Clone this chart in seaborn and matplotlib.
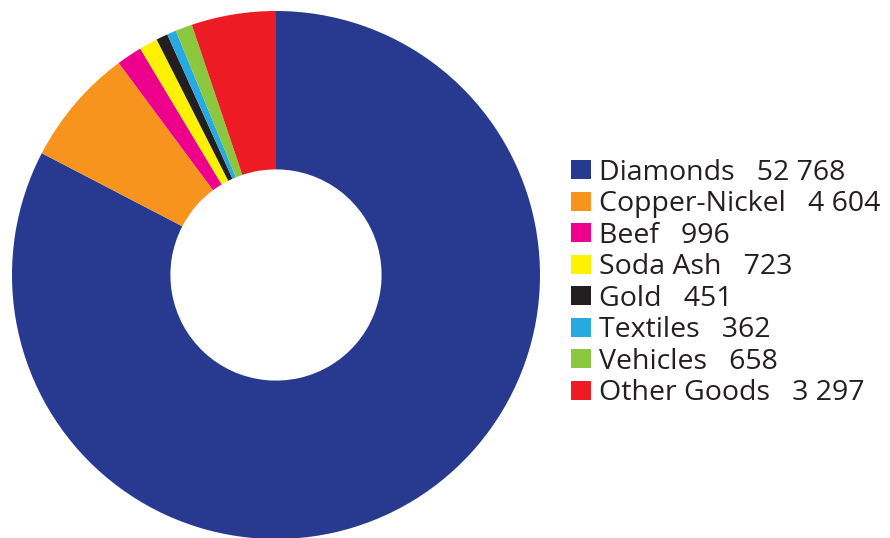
import matplotlib
matplotlib.use("Agg")
import matplotlib.pyplot as plt
import seaborn as sns
from matplotlib.patches import Patch

categories = ["Diamonds", "Copper-Nickel", "Beef", "Soda Ash", "Gold", "Textiles", "Vehicles", "Other Goods"]
values = [52768, 4604, 996, 723, 451, 362, 658, 3297]
value_labels = ["52 768", "4 604", "996", "723", "451", "362", "658", "3 297"]
colors = ["#283990", "#F7941D", "#EC008C", "#FFF200", "#231F20", "#27AAE1", "#8DC63F", "#ED1C24"]

sns.set_theme(style="white")
plt.rcParams['font.family'] = ['Open Sans', 'DejaVu Sans']

fig = plt.figure(figsize=(8.9, 5.38), dpi=100)
ax = fig.add_axes([12/890, -1/538, 528/890, 528/538])
ax.pie(values, colors=colors, startangle=90, counterclock=False,
       radius=1.0, wedgeprops=dict(width=0.6, linewidth=0))
ax.set_xlim(-1, 1)
ax.set_ylim(-1, 1)
ax.set_aspect('equal')
ax.axis('off')

handles = [Patch(facecolor=c, edgecolor='none') for c in colors]
labels = [f"{n}   {v}" for n, v in zip(categories, value_labels)]
leg = fig.legend(handles, labels, loc='center left', bbox_to_anchor=(571/890, 1 - 283/538),
                 frameon=False, fontsize=20.5, handlelength=0.7, handleheight=0.66,
                 handletextpad=0.28, labelspacing=0.125, borderpad=0, borderaxespad=0)
for t in leg.get_texts():
    t.set_color("#231F20")

fig.savefig("out.png", dpi=100)
